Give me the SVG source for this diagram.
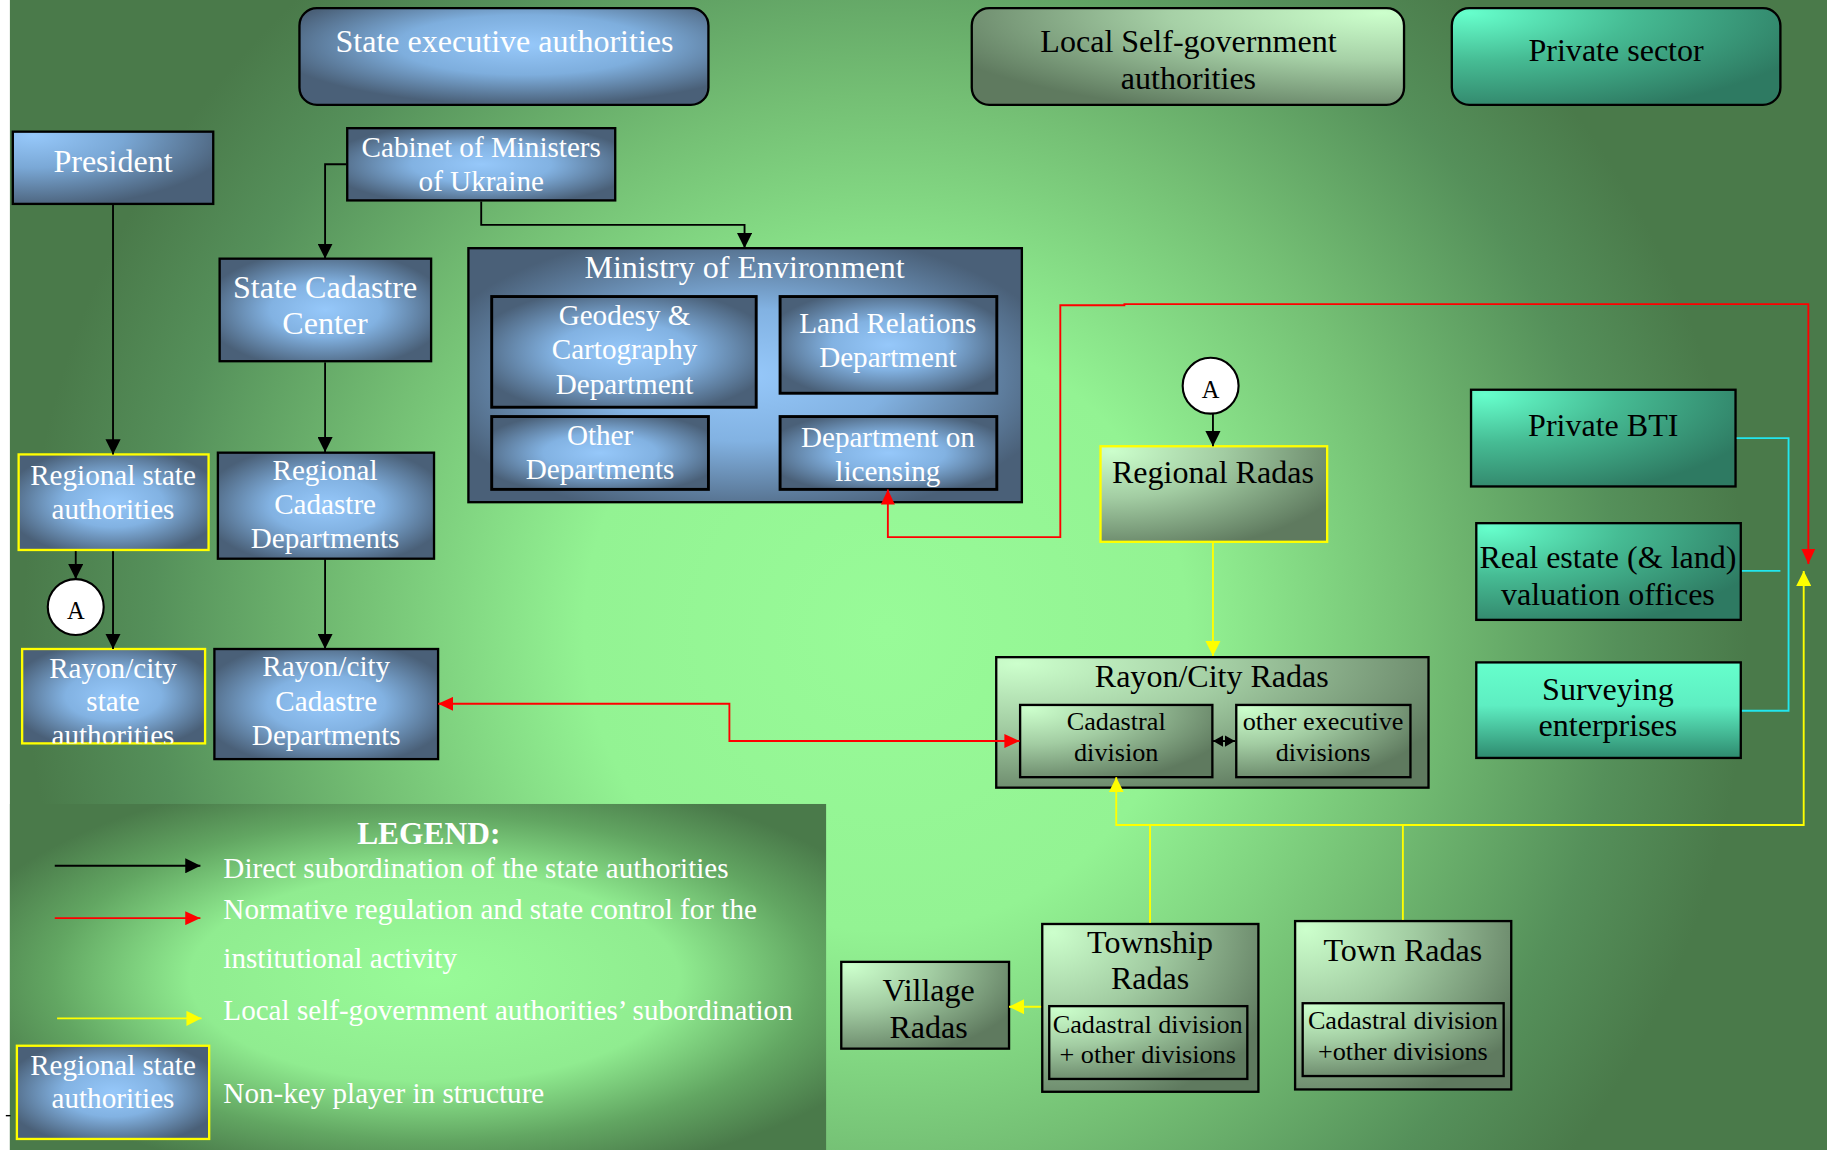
<svg xmlns="http://www.w3.org/2000/svg" width="1827" height="1150" viewBox="0 0 1827 1150">
<style>
.t{font-family:"Liberation Serif","Times New Roman",serif;text-anchor:middle}
.ls{font-family:"Liberation Serif","Times New Roman",serif;text-anchor:start;fill:#fff;font-size:25px}
.w{fill:#fff}
.k{fill:#000}
.l{font-size:27.5px}
.m{font-size:25px}
.s{font-size:22.5px}
.box{stroke:#000;stroke-width:2}
.ibox{stroke:#000;stroke-width:2.5}
.ybox{stroke:#ffff00;stroke-width:2}
.blk{fill:none;stroke:#000;stroke-width:1.6}
.red{fill:none;stroke:#ff0000;stroke-width:1.6}
.yel{fill:none;stroke:#ffff00;stroke-width:1.6}
.cyn{fill:none;stroke:#22e6ee;stroke-width:1.6}
</style>
<defs>
<radialGradient id="bg" gradientUnits="userSpaceOnUse" cx="760" cy="540" r="740">
<stop offset="0" stop-color="#98fb98"/>
<stop offset="0.35" stop-color="#93f393"/>
<stop offset="0.62" stop-color="#74bf74"/>
<stop offset="0.85" stop-color="#55905a"/>
<stop offset="1" stop-color="#4a7a4a"/>
</radialGradient>
<radialGradient id="leg" cx="0.52" cy="0.5" r="0.6">
<stop offset="0" stop-color="#98fb98"/>
<stop offset="0.5" stop-color="#90ec90"/>
<stop offset="0.78" stop-color="#62a662"/>
<stop offset="1" stop-color="#4a7a4a"/>
</radialGradient>
<radialGradient id="blue" cx="0.5" cy="0.5" r="0.58">
<stop offset="0" stop-color="#96c8fa"/>
<stop offset="0.45" stop-color="#82b2e2"/>
<stop offset="1" stop-color="#4a6078"/>
</radialGradient>
<radialGradient id="blueHdr" cx="0.55" cy="0.38" r="0.62">
<stop offset="0" stop-color="#96c8fa"/>
<stop offset="0.5" stop-color="#7eaedd"/>
<stop offset="1" stop-color="#4a6078"/>
</radialGradient>
<radialGradient id="bluePres" cx="0.1" cy="0.05" r="1">
<stop offset="0" stop-color="#96c8fa"/>
<stop offset="0.45" stop-color="#7aa8d6"/>
<stop offset="1" stop-color="#4a6078"/>
</radialGradient>
<radialGradient id="greenTL" cx="0.05" cy="0.05" r="1.1">
<stop offset="0" stop-color="#ccffcc"/>
<stop offset="0.45" stop-color="#a2cca2"/>
<stop offset="1" stop-color="#5f7a5f"/>
</radialGradient>
<radialGradient id="greenTR" cx="0.95" cy="0.05" r="1.1">
<stop offset="0" stop-color="#ccffcc"/>
<stop offset="0.45" stop-color="#a6d0a6"/>
<stop offset="1" stop-color="#5f7a5f"/>
</radialGradient>
<radialGradient id="tealTL" cx="0.05" cy="0.05" r="1.1">
<stop offset="0" stop-color="#66ffcc"/>
<stop offset="0.45" stop-color="#46bc94"/>
<stop offset="1" stop-color="#2e7a62"/>
</radialGradient>
<linearGradient id="tealTop" x1="0" y1="0" x2="0" y2="1">
<stop offset="0" stop-color="#66ffcc"/>
<stop offset="0.45" stop-color="#5eeec2"/>
<stop offset="1" stop-color="#2e8a6e"/>
</linearGradient>
<marker id="ak" markerUnits="userSpaceOnUse" markerWidth="13" markerHeight="13" refX="13" refY="6.5" orient="auto-start-reverse" viewBox="0 0 13 13"><path d="M0,0 L13,6.5 L0,13 z" fill="#000"/></marker>
<marker id="aks" markerUnits="userSpaceOnUse" markerWidth="9" markerHeight="10" refX="9" refY="5" orient="auto-start-reverse" viewBox="0 0 9 10"><path d="M0,0 L9,5 L0,10 z" fill="#000"/></marker>
<marker id="ar" markerUnits="userSpaceOnUse" markerWidth="13" markerHeight="12" refX="13" refY="6" orient="auto-start-reverse" viewBox="0 0 13 12"><path d="M0,0 L13,6 L0,12 z" fill="#ff0000"/></marker>
<marker id="ay" markerUnits="userSpaceOnUse" markerWidth="13" markerHeight="13" refX="13" refY="6.5" orient="auto-start-reverse" viewBox="0 0 13 13"><path d="M0,0 L13,6.5 L0,13 z" fill="#ffff00"/></marker>
<clipPath id="clipRayon"><rect x="19" y="557" width="157" height="81"/></clipPath>
</defs>
<rect x="0" y="0" width="1827" height="1150" fill="#fff"/>
<g transform="scale(1.16518)">
<rect x="8.5" y="0" width="1560" height="988" fill="url(#bg)"/>
<rect id="legend-bg" x="8.5" y="690" width="700.5" height="298" fill="url(#leg)"/>
<line x1="5" y1="957.5" x2="9" y2="957.5" stroke="#000" stroke-width="1.2"/>

<g id="state-exec">
<rect x="257" y="7" width="351" height="83" rx="15" class="box" fill="url(#blueHdr)"/>
<text x="433" y="45" class="t w l">State executive authorities</text>
</g>
<g id="local-self">
<rect x="834" y="7" width="371" height="83" rx="15" class="box" fill="url(#greenTR)"/>
<text x="1020" y="45" class="t k l">Local Self-government</text>
<text x="1020" y="76.7" class="t k l">authorities</text>
</g>
<g id="private-sector">
<rect x="1246" y="7" width="282" height="83" rx="15" class="box" fill="url(#tealTL)"/>
<text x="1387" y="52.4" class="t k l">Private sector</text>
</g>
<g id="president">
<rect x="11" y="113" width="172" height="62" class="box" fill="url(#bluePres)"/>
<text x="97" y="147.5" class="t w l">President</text>
</g>
<g id="cabinet">
<rect x="298" y="110" width="230" height="62" class="box" fill="url(#blue)"/>
<text x="413" y="134.5" class="t w m">Cabinet of Ministers</text>
<text x="413" y="163.7" class="t w m">of Ukraine</text>
</g>
<g id="state-cadastre">
<rect x="188.5" y="222" width="181.5" height="88" class="box" fill="url(#blue)"/>
<text x="279" y="255.5" class="t w l">State Cadastre</text>
<text x="279" y="286.7" class="t w l">Center</text>
</g>
<g id="ministry">
<rect x="402" y="213" width="475" height="218" class="box" fill="url(#blue)"/>
<text x="639" y="239" class="t w l">Ministry of Environment</text>
</g>
<g id="geodesy">
<rect x="422" y="254.5" width="227" height="95" class="ibox" fill="url(#blue)"/>
<text x="536" y="279" class="t w m">Geodesy &amp;</text>
<text x="536" y="308.5" class="t w m">Cartography</text>
<text x="536" y="338" class="t w m">Department</text>
</g>
<g id="land-relations">
<rect x="669.5" y="254.5" width="186" height="83" class="ibox" fill="url(#blue)"/>
<text x="762" y="285.6" class="t w m">Land Relations</text>
<text x="762" y="314.7" class="t w m">Department</text>
</g>
<g id="other-departments">
<rect x="422" y="357.5" width="186" height="62.5" class="ibox" fill="url(#blue)"/>
<text x="515" y="382.2" class="t w m">Other</text>
<text x="515" y="410.8" class="t w m">Departments</text>
</g>
<g id="licensing">
<rect x="669.5" y="357.5" width="186" height="62.5" class="ibox" fill="url(#blue)"/>
<text x="762" y="383.6" class="t w m">Department on</text>
<text x="762" y="412.5" class="t w m">licensing</text>
</g>
<g id="regional-state">
<rect x="16" y="390" width="163" height="82" class="ybox" fill="url(#blue)"/>
<text x="97" y="416" class="t w m">Regional state</text>
<text x="97" y="445.4" class="t w m">authorities</text>
</g>
<g id="regional-cadastre">
<rect x="187" y="388.5" width="185.5" height="91" class="box" fill="url(#blue)"/>
<text x="279" y="412.2" class="t w m">Regional</text>
<text x="279" y="440.9" class="t w m">Cadastre</text>
<text x="279" y="470.3" class="t w m">Departments</text>
</g>
<g id="a-left">
<circle cx="65" cy="521" r="24" fill="#fff" stroke="#000" stroke-width="1.8"/>
<text x="65" y="531.5" class="t k" font-size="21">A</text>
</g>
<g id="rayon-state">
<rect x="19" y="557" width="157" height="81" class="ybox" fill="url(#blue)"/>
<g clip-path="url(#clipRayon)">
<text x="97" y="582" class="t w m">Rayon/city</text>
<text x="97" y="610.5" class="t w m">state</text>
<text x="97" y="639.5" class="t w m">authorities</text>
</g>
</g>
<g id="rayon-cadastre">
<rect x="184" y="557" width="192" height="94.5" class="box" fill="url(#blue)"/>
<text x="280" y="580.5" class="t w m">Rayon/city</text>
<text x="280" y="610.5" class="t w m">Cadastre</text>
<text x="280" y="639" class="t w m">Departments</text>
</g>
<g id="a-right">
<circle cx="1039" cy="331" r="24" fill="#fff" stroke="#000" stroke-width="1.8"/>
<text x="1039" y="341.5" class="t k" font-size="21">A</text>
</g>
<g id="regional-radas">
<rect x="944.5" y="383" width="194.5" height="82" class="ybox" fill="url(#greenTL)"/>
<text x="1041" y="414.5" class="t k l">Regional Radas</text>
</g>
<g id="rayon-radas">
<rect x="855" y="564" width="371" height="112" class="box" fill="url(#greenTL)"/>
<text x="1040" y="589.6" class="t k l">Rayon/City Radas</text>
</g>
<g id="cadastral-division">
<rect x="875.5" y="605" width="165" height="62" class="box" fill="url(#greenTL)"/>
<text x="958" y="626.3" class="t k s">Cadastral</text>
<text x="958" y="652.9" class="t k s">division</text>
</g>
<g id="other-executive">
<rect x="1061" y="605" width="149.5" height="62" class="box" fill="url(#greenTL)"/>
<text x="1135.5" y="626.3" class="t k s">other executive</text>
<text x="1135.5" y="652.9" class="t k s">divisions</text>
</g>
<g id="private-bti">
<rect x="1262.5" y="334.5" width="227" height="83" class="box" fill="url(#tealTL)"/>
<text x="1376" y="374" class="t k l">Private BTI</text>
</g>
<g id="real-estate">
<rect x="1267" y="449" width="227" height="83" class="box" fill="url(#tealTL)"/>
<text x="1380" y="487.5" class="t k l">Real estate (&amp; land)</text>
<text x="1380" y="519" class="t k l">valuation offices</text>
</g>
<g id="surveying">
<rect x="1267" y="568.5" width="227" height="82" class="box" fill="url(#tealTop)"/>
<text x="1380" y="600.5" class="t k l">Surveying</text>
<text x="1380" y="632" class="t k l">enterprises</text>
</g>
<g id="village-radas">
<rect x="722" y="825.5" width="144" height="74.5" class="box" fill="url(#greenTL)"/>
<text x="797" y="859.2" class="t k l">Village</text>
<text x="797" y="890.7" class="t k l">Radas</text>
</g>
<g id="township-radas">
<rect x="894.5" y="793" width="185.5" height="144" class="box" fill="url(#greenTL)"/>
<text x="987" y="817.7" class="t k l">Township</text>
<text x="987" y="849.2" class="t k l">Radas</text>
<rect x="900.5" y="863.5" width="170" height="62.5" class="box" fill="url(#greenTL)"/>
<text x="985" y="886.4" class="t k s">Cadastral division</text>
<text x="985" y="912.1" class="t k s">+ other divisions</text>
</g>
<g id="town-radas">
<rect x="1111.5" y="790.5" width="185.5" height="144.5" class="box" fill="url(#greenTL)"/>
<text x="1204" y="825" class="t k l">Town Radas</text>
<rect x="1118" y="861" width="172.5" height="62.5" class="box" fill="url(#greenTL)"/>
<text x="1204" y="883.5" class="t k s">Cadastral division</text>
<text x="1204" y="910" class="t k s">+other divisions</text>
</g>
<g id="legend">
<text x="368" y="724" class="t w" font-size="27" font-weight="bold">LEGEND:</text>
<text x="191.7" y="753.4" class="ls">Direct subordination of the state authorities</text>
<text x="191.7" y="788.5" class="ls">Normative regulation and state control for the</text>
<text x="191.7" y="830.6" class="ls">institutional activity</text>
<text x="191.7" y="875" class="ls">Local self-government authorities’ subordination</text>
<text x="191.7" y="946.5" class="ls">Non-key player in structure</text>
<rect x="14.5" y="897.5" width="165" height="80" class="ybox" fill="url(#blue)"/>
<text x="97" y="922.2" class="t w m">Regional state</text>
<text x="97" y="950.8" class="t w m">authorities</text>
</g>

<g id="connectors">
<path class="blk" d="M97,176 V390" marker-end="url(#ak)"/>
<path class="blk" d="M97,473 V557" marker-end="url(#ak)"/>
<path class="blk" d="M65,473 V497" marker-end="url(#ak)"/>
<path class="blk" d="M297,141 H279 V222" marker-end="url(#ak)"/>
<path class="blk" d="M413,173 V193 H639 V213" marker-end="url(#ak)"/>
<path class="blk" d="M279,311 V388" marker-end="url(#ak)"/>
<path class="blk" d="M279,480 V557" marker-end="url(#ak)"/>
<path class="blk" d="M1041,355 V383" marker-end="url(#ak)"/>
<path class="blk" d="M1041,636 H1060" marker-start="url(#aks)" marker-end="url(#aks)"/>
<path class="red" d="M376,604 H626 V636 H875" marker-start="url(#ar)" marker-end="url(#ar)"/>
<path class="red" d="M762,420 V461 H910 V262 H965 V261 H1552 V484" marker-start="url(#ar)" marker-end="url(#ar)"/>
<path class="yel" d="M1041,466 V563" marker-end="url(#ay)"/>
<path class="yel" d="M958,667 V708 H1548 V490" marker-start="url(#ay)" marker-end="url(#ay)"/>
<path class="yel" d="M987,792 V708"/>
<path class="yel" d="M1204,789.5 V708"/>
<path class="yel" d="M893.5,864 H866" marker-end="url(#ay)"/>
<path class="cyn" d="M1490.5,376 H1535 V610 H1495"/>
<path class="cyn" d="M1495,490 H1528"/>
<path class="blk" d="M47,743 H172" marker-end="url(#ak)"/>
<path class="red" d="M47,788 H172" marker-end="url(#ar)"/>
<path class="yel" d="M49,874 H173" marker-end="url(#ay)"/>
</g>
</g>
</svg>
